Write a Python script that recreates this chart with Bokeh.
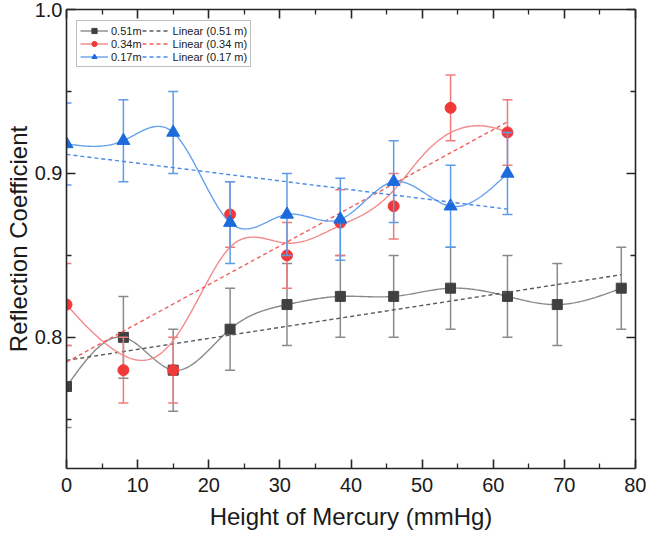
import numpy as np
from bokeh.plotting import figure
from bokeh.models import (Range1d, FixedTicker, LinearAxis, Legend, LegendItem,
                          PrintfTickFormatter, CustomJSTickFormatter)
from bokeh.embed import file_html
from bokeh.resources import INLINE

# ---------------- data ----------------
height_051 = [0, 8, 15, 23, 31, 38.5, 46, 54, 62, 69, 78]
refl_051 = [0.77, 0.80, 0.78, 0.805, 0.82, 0.825, 0.825, 0.83, 0.825, 0.82, 0.83]
err_051 = [0.025, 0.025, 0.025, 0.025, 0.025, 0.025, 0.025, 0.025, 0.025, 0.025, 0.025]

height_034 = [0, 8, 15, 23, 31, 38.5, 46, 54, 62]
refl_034 = [0.82, 0.78, 0.78, 0.875, 0.85, 0.87, 0.88, 0.94, 0.925]
err_034 = [0.025, 0.02, 0.02, 0.02, 0.02, 0.02, 0.02, 0.02, 0.02]

height_017 = [0, 8, 15, 23, 31, 38.5, 46, 54, 62]
refl_017 = [0.918, 0.92, 0.925, 0.87, 0.875, 0.872, 0.895, 0.88, 0.90]
err_017 = [0.025, 0.025, 0.025, 0.025, 0.025, 0.025, 0.025, 0.025, 0.025]

x_ticks = [0, 10, 20, 30, 40, 50, 60, 70, 80]
x_minor = [5, 15, 25, 35, 45, 55, 65, 75]
y_ticks = [0.8, 0.9, 1.0]
y_minor = [0.75, 0.85, 0.95]

FONT = "Liberation Sans"


def natural_spline(xs, ys, n=400):
    x = np.asarray(xs, float)
    y = np.asarray(ys, float)
    k = len(x)
    h = np.diff(x)
    A = np.zeros((k, k))
    b = np.zeros(k)
    A[0, 0] = 1
    A[-1, -1] = 1
    for i in range(1, k - 1):
        A[i, i - 1] = h[i - 1]
        A[i, i] = 2 * (h[i - 1] + h[i])
        A[i, i + 1] = h[i]
        b[i] = 3 * ((y[i + 1] - y[i]) / h[i] - (y[i] - y[i - 1]) / h[i - 1])
    c = np.linalg.solve(A, b)
    bb = (y[1:] - y[:-1]) / h - h * (2 * c[:-1] + c[1:]) / 3
    d = (c[1:] - c[:-1]) / (3 * h)
    xx = np.linspace(x[0], x[-1], n)
    idx = np.clip(np.searchsorted(x, xx, side="right") - 1, 0, k - 2)
    dx = xx - x[idx]
    yy = y[idx] + bb[idx] * dx + c[idx] * dx ** 2 + d[idx] * dx ** 3
    return xx, yy


def bspline(xs, ys, n=400, p=3):
    P = np.column_stack([xs, ys]).astype(float)
    m = len(P)
    knots = np.concatenate([np.zeros(p + 1), np.arange(1, m - p),
                            np.full(p + 1, m - p)]).astype(float)
    out = []
    for t in np.linspace(0, m - p, n):
        k = int(np.searchsorted(knots, t, side="right") - 1)
        k = min(k, m - 1)
        d = [P[j + k - p].copy() for j in range(p + 1)]
        for r in range(1, p + 1):
            for j in range(p, r - 1, -1):
                den = knots[j + 1 + k - r] - knots[j + k - p]
                a = 0.0 if den == 0 else (t - knots[j + k - p]) / den
                d[j] = (1 - a) * d[j - 1] + a * d[j]
        out.append(d[p])
    out = np.array(out)
    return out[:, 0], out[:, 1]


p = figure(width=646, height=536, x_range=Range1d(0, 80), y_range=Range1d(0.72, 1.0),
           output_backend="svg", toolbar_location=None,
           min_border_left=66, min_border_right=11, min_border_top=9, min_border_bottom=68)
p.xgrid.visible = False
p.ygrid.visible = False
p.outline_line_color = None
p.background_fill_color = "white"

series = [
    ("0.51m", "Linear (0.51 m)", height_051, refl_051, err_051, "square", 10,
     "#404040", "#8a8a8a", "#8a8a8a", "#5a5a5a", "spline"),
    ("0.34m", "Linear (0.34 m)", height_034, refl_034, err_034, "circle", 11,
     "#f03a3a", "#f28a8a", "#f07a7a", "#f06060", "bspline"),
    ("0.17m", "Linear (0.17 m)", height_017, refl_017, err_017, "triangle", 13,
     "#1c6bdc", "#66a2ee", "#5e9ce8", "#4a8ae6", "spline"),
]

main_items = []
fit_items = []
for (lab, fitlab, xs, ys, es, marker, size, mcol, lcol, ecol, dcol, kind) in series:
    x = np.asarray(xs, float)
    y = np.asarray(ys, float)
    e = np.asarray(es, float)
    p.segment(x0=x, y0=y - e, x1=x, y1=y + e, line_color=ecol, line_width=1.5)
    p.scatter(x=x, y=y + e, marker="dash", size=10, line_color=ecol, line_width=1.5)
    p.scatter(x=x, y=y - e, marker="dash", size=10, line_color=ecol, line_width=1.5)
    if kind == "spline":
        sx, sy = natural_spline(x, y)
    else:
        sx, sy = bspline(x, y)
    ln = p.line(sx, sy, line_color=lcol, line_width=1.4)
    sc = p.scatter(x=x, y=y, marker=marker, size=size, fill_color=mcol, line_color=mcol)
    main_items.append(LegendItem(label=lab, renderers=[ln, sc]))
    slope, icpt = np.polyfit(x, y, 1)
    fx = np.array([x[0], x[-1]])
    fl = p.line(fx, icpt + slope * fx, line_color=dcol, line_width=1.4, line_dash="4 3")
    fit_items.append(LegendItem(label=fitlab, renderers=[fl]))

bottom = p.below[0]
left = p.left[0]

bottom.ticker = FixedTicker(ticks=x_ticks, minor_ticks=x_minor)
left.ticker = FixedTicker(ticks=y_ticks, minor_ticks=y_minor)
left.formatter = PrintfTickFormatter(format="%.1f")
bottom.formatter = PrintfTickFormatter(format="%d")
bottom.axis_label = "Height of Mercury (mmHg)"
left.axis_label = "Reflection Coefficient"

blank = CustomJSTickFormatter(code="return ''")
top = LinearAxis(ticker=FixedTicker(ticks=x_ticks, minor_ticks=x_minor),
                 formatter=blank, major_label_standoff=0)
right = LinearAxis(ticker=FixedTicker(ticks=y_ticks, minor_ticks=y_minor),
                   formatter=blank, major_label_standoff=0)
p.add_layout(top, "above")
p.add_layout(right, "right")

for ax in [bottom, left, top, right]:
    ax.axis_line_width = 1.6
    ax.axis_line_color = "#262626"
    ax.major_tick_line_color = "#262626"
    ax.major_tick_line_width = 1.6
    ax.minor_tick_line_color = "#262626"
    ax.minor_tick_line_width = 1.3
    ax.major_tick_in = 9
    ax.major_tick_out = 0
    ax.minor_tick_in = 5
    ax.minor_tick_out = 0

for ax in [bottom, left]:
    ax.major_label_text_font = FONT
    ax.major_label_text_font_size = "20px"
    ax.major_label_text_color = "#1a1a1a"
    ax.axis_label_text_font = FONT
    ax.axis_label_text_font_size = "24px"
    ax.axis_label_text_font_style = "normal"
    ax.axis_label_text_color = "#1a1a1a"
bottom.major_label_standoff = 9
left.major_label_standoff = 4
bottom.axis_label_standoff = 8
left.axis_label_standoff = 0

legend = Legend(items=main_items + fit_items, ncols=2, location=(10, 401),
                label_text_font=FONT, label_text_font_size="11px",
                label_text_color="#1a1a1a",
                glyph_width=28, glyph_height=13, label_height=13,
                label_standoff=3, padding=3, spacing=0, margin=0,
                border_line_color="#808080", border_line_width=1,
                background_fill_color="white", background_fill_alpha=1.0)
p.add_layout(legend, "center")

open("out.html", "w").write(file_html(p, INLINE))
